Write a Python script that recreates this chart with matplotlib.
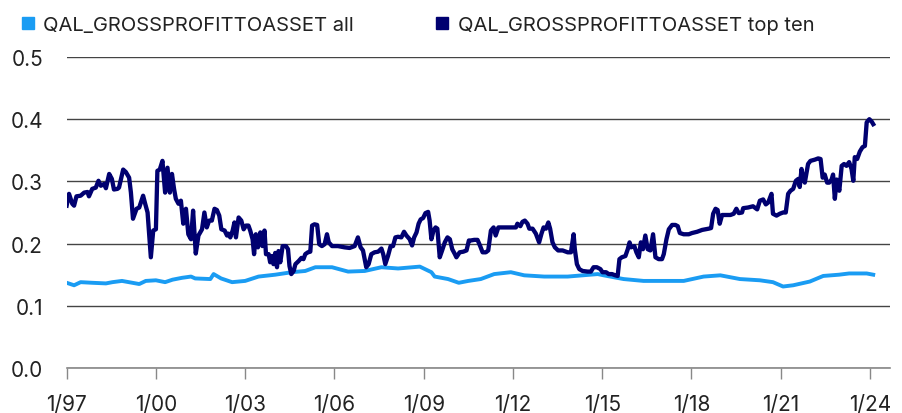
import numpy as np
import matplotlib
matplotlib.use("Agg")
import matplotlib.pyplot as plt
from matplotlib.lines import Line2D

plt.rcParams['font.family'] = ['Inter', 'DejaVu Sans']

# years after Jan 1997
top_dt = [0.00, 0.08, 0.19, 0.25, 0.33, 0.47, 0.59, 0.70, 0.75, 0.86, 0.98, 1.07, 1.15, 1.26, 1.32,
          1.43, 1.52, 1.59, 1.71, 1.76, 1.90, 1.99, 2.10, 2.16, 2.23, 2.35, 2.44, 2.57, 2.64, 2.72,
          2.77, 2.83, 2.91, 3.00, 3.05, 3.13, 3.22, 3.31, 3.39, 3.47, 3.54, 3.61, 3.67, 3.76, 3.84,
          3.92, 4.01, 4.09, 4.18, 4.25, 4.34, 4.43, 4.55, 4.63, 4.71, 4.79, 4.88, 4.97, 5.05, 5.13,
          5.20, 5.31, 5.39, 5.44, 5.50, 5.58, 5.64, 5.69, 5.78, 5.87, 5.95, 6.03, 6.11, 6.17, 6.25,
          6.30, 6.36, 6.43, 6.51, 6.58, 6.65, 6.70, 6.79, 6.84, 6.90, 6.95, 7.01, 7.07, 7.12, 7.18,
          7.26, 7.37, 7.44, 7.49, 7.55, 7.63, 7.69, 7.80, 7.89, 7.96, 8.02, 8.11, 8.19, 8.25, 8.33,
          8.42, 8.49, 8.58, 8.67, 8.75, 8.81, 8.92, 9.12, 9.34, 9.51, 9.68, 9.79, 9.88, 9.96, 10.07,
          10.15, 10.24, 10.35, 10.47, 10.58, 10.64, 10.71, 10.80, 10.89, 10.97, 11.05, 11.14, 11.25,
          11.34, 11.42, 11.53, 11.61, 11.68, 11.76, 11.83, 11.90, 11.98, 12.06, 12.15, 12.20, 12.26,
          12.33, 12.40, 12.46, 12.54, 12.62, 12.71, 12.80, 12.88, 12.96, 13.05, 13.10, 13.21, 13.33,
          13.44, 13.52, 13.58, 13.70, 13.81, 13.90, 13.98, 14.09, 14.17, 14.26, 14.35, 14.42, 14.51,
          14.71, 14.93, 15.10, 15.15, 15.25, 15.32, 15.40, 15.49, 15.55, 15.66, 15.77, 15.88, 15.96,
          16.03, 16.11, 16.19, 16.25, 16.33, 16.41, 16.52, 16.67, 16.84, 16.95, 17.04, 17.08, 17.15,
          17.23, 17.34, 17.51, 17.62, 17.71, 17.82, 17.94, 18.01, 18.13, 18.22, 18.33, 18.44, 18.52,
          18.58, 18.66, 18.78, 18.86, 18.92, 18.97, 19.08, 19.15, 19.23, 19.30, 19.37, 19.45, 19.53,
          19.62, 19.71, 19.79, 19.90, 20.01, 20.07, 20.16, 20.24, 20.35, 20.46, 20.54, 20.61, 20.74,
          20.91, 21.02, 21.19, 21.36, 21.47, 21.58, 21.66, 21.73, 21.81, 21.88, 21.95, 22.03, 22.14,
          22.31, 22.42, 22.51, 22.59, 22.70, 22.74, 22.90, 23.07, 23.21, 23.30, 23.41, 23.50, 23.58,
          23.69, 23.74, 23.86, 23.97, 24.08, 24.17, 24.25, 24.33, 24.42, 24.51, 24.59, 24.64, 24.70,
          24.75, 24.81, 24.87, 24.92, 25.00, 25.15, 25.26, 25.34, 25.41, 25.48, 25.56, 25.63, 25.71,
          25.76, 25.82, 25.88, 25.97, 26.05, 26.13, 26.21, 26.30, 26.38, 26.44, 26.49, 26.57, 26.66,
          26.75, 26.83, 26.89, 26.98, 27.06, 27.11]
top_ten = [0.261, 0.280, 0.264, 0.261, 0.276, 0.277, 0.282, 0.283, 0.276, 0.288, 0.290, 0.301, 0.293,
           0.296, 0.289, 0.312, 0.304, 0.287, 0.288, 0.290, 0.319, 0.315, 0.306, 0.282, 0.240, 0.256,
           0.258, 0.277, 0.264, 0.250, 0.218, 0.178, 0.221, 0.223, 0.317, 0.319, 0.333, 0.282, 0.322,
           0.282, 0.312, 0.288, 0.272, 0.264, 0.269, 0.232, 0.256, 0.215, 0.207, 0.253, 0.184, 0.213,
           0.223, 0.250, 0.226, 0.237, 0.237, 0.256, 0.254, 0.245, 0.223, 0.221, 0.213, 0.216, 0.210,
           0.221, 0.234, 0.210, 0.242, 0.237, 0.223, 0.229, 0.229, 0.221, 0.207, 0.183, 0.215, 0.194,
           0.218, 0.196, 0.221, 0.183, 0.183, 0.170, 0.180, 0.167, 0.185, 0.162, 0.188, 0.170, 0.196,
           0.196, 0.191, 0.164, 0.151, 0.156, 0.167, 0.172, 0.177, 0.175, 0.183, 0.186, 0.187, 0.229,
           0.231, 0.230, 0.199, 0.196, 0.199, 0.215, 0.202, 0.196, 0.196, 0.194, 0.193, 0.196, 0.210,
           0.194, 0.189, 0.162, 0.167, 0.183, 0.186, 0.187, 0.192, 0.183, 0.167, 0.180, 0.196, 0.196,
           0.210, 0.211, 0.210, 0.219, 0.213, 0.207, 0.197, 0.210, 0.218, 0.232, 0.239, 0.241, 0.249,
           0.251, 0.237, 0.207, 0.221, 0.226, 0.224, 0.178, 0.189, 0.202, 0.210, 0.207, 0.191, 0.183,
           0.178, 0.186, 0.187, 0.189, 0.205, 0.205, 0.206, 0.206, 0.196, 0.186, 0.186, 0.189, 0.221,
           0.226, 0.213, 0.226, 0.226, 0.226, 0.226, 0.232, 0.228, 0.235, 0.237, 0.232, 0.224, 0.224,
           0.216, 0.202, 0.216, 0.226, 0.224, 0.234, 0.224, 0.202, 0.194, 0.189, 0.189, 0.186, 0.186,
           0.215, 0.191, 0.167, 0.159, 0.156, 0.155, 0.155, 0.162, 0.162, 0.159, 0.154, 0.154, 0.151,
           0.151, 0.149, 0.148, 0.175, 0.178, 0.180, 0.191, 0.202, 0.194, 0.196, 0.186, 0.178, 0.202,
           0.191, 0.213, 0.191, 0.189, 0.215, 0.178, 0.175, 0.175, 0.183, 0.207, 0.223, 0.230, 0.230,
           0.228, 0.217, 0.215, 0.215, 0.217, 0.219, 0.222, 0.223, 0.224, 0.225, 0.248, 0.256, 0.254,
           0.232, 0.246, 0.246, 0.246, 0.248, 0.256, 0.249, 0.250, 0.257, 0.258, 0.260, 0.255, 0.269,
           0.271, 0.263, 0.266, 0.280, 0.248, 0.245, 0.248, 0.250, 0.250, 0.280, 0.285, 0.288, 0.301,
           0.304, 0.291, 0.320, 0.306, 0.298, 0.314, 0.328, 0.333, 0.335, 0.337, 0.336, 0.306, 0.311,
           0.298, 0.298, 0.303, 0.311, 0.272, 0.303, 0.285, 0.325, 0.328, 0.325, 0.331, 0.320, 0.301,
           0.339, 0.336, 0.348, 0.355, 0.357, 0.395, 0.400, 0.396, 0.392]

all_dt = [0.00, 0.25, 0.47, 0.86, 1.32, 1.54, 1.86, 2.44, 2.66, 3.00, 3.31, 3.56, 3.88, 4.18, 4.32,
          4.83, 4.94, 5.19, 5.56, 6.00, 6.45, 7.01, 7.57, 8.02, 8.36, 8.92, 9.46, 10.02, 10.58, 11.14,
          11.87, 12.26, 12.37, 12.82, 13.18, 13.50, 13.92, 14.37, 14.93, 15.38, 16.05, 16.84, 17.85,
          18.05, 18.72, 19.39, 20.74, 21.41, 21.97, 22.63, 23.30, 23.74, 24.08, 24.42, 24.98, 25.43,
          25.96, 26.30, 26.89, 27.11]
all_vals = [0.137, 0.133, 0.138, 0.137, 0.136, 0.138, 0.140, 0.135, 0.140, 0.141, 0.138, 0.142, 0.145,
            0.147, 0.144, 0.143, 0.151, 0.144, 0.138, 0.140, 0.147, 0.150, 0.154, 0.156, 0.162, 0.162,
            0.155, 0.156, 0.162, 0.160, 0.163, 0.154, 0.147, 0.143, 0.137, 0.140, 0.143, 0.151, 0.154,
            0.149, 0.147, 0.147, 0.151, 0.149, 0.143, 0.140, 0.140, 0.147, 0.149, 0.143, 0.141, 0.138,
            0.131, 0.133, 0.139, 0.148, 0.150, 0.152, 0.152, 0.150]

tick_years = [1997, 2000, 2003, 2006, 2009, 2012, 2015, 2018, 2021, 2024]
tick_labels = ['1/97', '1/00', '1/03', '1/06', '1/09', '1/12', '1/15', '1/18', '1/21', '1/24']
y_ticks = [0.0, 0.1, 0.2, 0.3, 0.4, 0.5]

c_all = '#1A9CF3'
c_top = '#000070'

fig = plt.figure(figsize=(9.03, 4.14), dpi=100)
ax = fig.add_axes([0.0738, 0.1087, 0.912, 0.7512])

ax.plot(1997 + np.array(all_dt), all_vals, color=c_all, lw=2.8, solid_joinstyle='round')
ax.plot(1997 + np.array(top_dt), top_ten, color=c_top, lw=3.1, solid_joinstyle='round')

ax.set_ylim(0, 0.5)
ax.set_xlim(1997, 2024 + 20.2 / 29.72)
ax.set_yticks(y_ticks)
ax.set_yticklabels([f'{v:.1f}' for v in y_ticks])
ax.set_xticks(tick_years)
ax.set_xticklabels(tick_labels)
ax.grid(axis='y', color='#444444', lw=1.0)
ax.set_axisbelow(True)
for s in ['left', 'right', 'top']:
    ax.spines[s].set_visible(False)
ax.spines['bottom'].set_color('#888888')
ax.spines['bottom'].set_linewidth(1.2)
ax.tick_params(axis='y', length=0, pad=17, labelsize=15, colors='#222222')
ax.tick_params(axis='x', length=8, width=1.0, color='#888888', pad=11, labelsize=15,
               labelcolor='#222222')

handles = [Line2D([], [], ls='none', marker='s', ms=8.5, color=c_all),
           Line2D([], [], ls='none', marker='s', ms=8.5, color=c_top)]
fig.legend(handles, ['QAL_GROSSPROFITTOASSET all', 'QAL_GROSSPROFITTOASSET top ten'],
           loc='upper left', bbox_to_anchor=(0.002, 1.003), ncol=2, frameon=False,
           fontsize=14.5, handletextpad=0.35, columnspacing=4.0, handlelength=0.8,
           labelcolor='#222222')

fig.savefig('out.png', dpi=100)
